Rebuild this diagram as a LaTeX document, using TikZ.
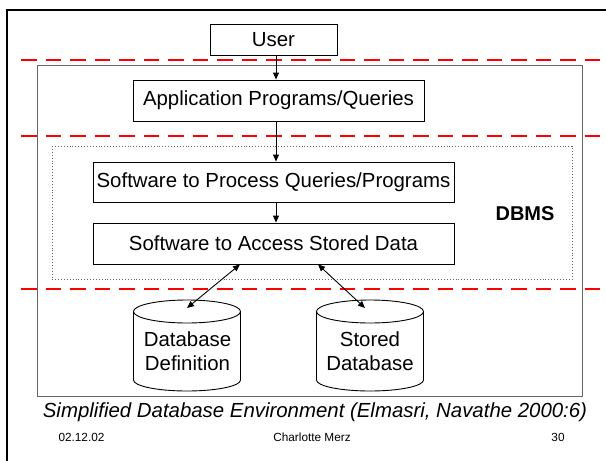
\documentclass[tikz,border=0pt]{standalone}
\usepackage{fontspec}
\setmainfont{Liberation Sans}
\usetikzlibrary{arrows.meta}
\tikzset{
  box/.style={draw=black, line width=0.9pt, inner sep=0pt, font=\fontsize{20.4}{24}\selectfont},
  sep/.style={draw=red, line width=2.6pt, dash pattern=on 15.5pt off 9pt},
  flow/.style={draw=black, line width=0.9pt, -{Triangle[length=7pt,width=6pt]}},
  both/.style={draw=black, line width=0.9pt, {Triangle[length=7pt,width=6pt]}-{Triangle[length=7pt,width=6pt]}},
  dbtext/.style={align=center, font=\fontsize{20.4}{24}\selectfont},
  foot/.style={font=\fontsize{11.8}{14}\selectfont}
}
\begin{document}
\begin{tikzpicture}[x=1pt,y=-1pt]
\useasboundingbox (0,0) rectangle (606,461);
\fill[white] (0,0) rectangle (606,461);
% outer frame (partially visible)
\draw[line width=2pt] (7,475) -- (7,10) -- (620,10);
% gray environment box
\draw[draw=gray!80!black, line width=1pt] (37,65) rectangle (582,396);
% dotted DBMS box
\draw[draw=gray!80!black, line width=0.9pt, dotted] (52,146) rectangle (572,279);
% separators
\draw[sep] (21,60) -- (620,60);
\draw[sep] (21,136) -- (620,136);
\draw[sep] (21,289) -- (620,289);
% nodes
\node[box, minimum width=127pt, minimum height=31pt] (user) at (273.5,39.5) {User};
\node[box, fill=white, minimum width=291pt, minimum height=41pt] (app) at (278.5,100.5) {Application Programs/Queries};
\node[box, fill=white, minimum width=361pt, minimum height=40pt] (proc) at (273.5,182) {Software to Process Queries/Programs};
\node[box, fill=white, minimum width=361pt, minimum height=41pt] (acc) at (273.5,243.5) {Software to Access Stored Data};
\node[font=\bfseries\fontsize{20}{24}\selectfont] (dbms) at (525,214) {DBMS};
% cylinders
\foreach \cx/\nm in {187/cylA, 370/cylB}{
  \draw[line width=0.9pt, fill=white] (\cx-53.5,311.5) -- (\cx-53.5,380)
     arc[start angle=180, end angle=360, x radius=53.5, y radius=-11]
     -- (\cx+53.5,311.5)
     arc[start angle=0, end angle=180, x radius=53.5, y radius=-11.5];
  \draw[line width=0.9pt] (\cx-53.5,311.5) arc[start angle=180, end angle=360, x radius=53.5, y radius=-11.5];
}
\node[dbtext] (defn) at (187.5,351) {Database\\Definition};
\node[dbtext] (stored) at (370,351) {Stored\\Database};
\coordinate (ax) at (276,0);
\coordinate (tA) at (187,308);
\coordinate (tB) at (365,308);
\coordinate (sA) at (240,265);
\coordinate (sB) at (318,265);
% connectors
\draw[flow] (user.south -| ax) -- (app.north -| ax);
\draw[flow] (app.south -| ax) -- (proc.north -| ax);
\draw[flow] (proc.south -| ax) -- (acc.north -| ax);
\draw[both] (acc.south -| sA) -- (tA);
\draw[both] (acc.south -| sB) -- (tB);
% caption and footer
\node[font=\itshape\fontsize{20.4}{24}\selectfont] (cap) at (315,412) {Simplified Database Environment (Elmasri, Navathe 2000:6)};
\node[foot] (date) at (81.5,437) {02.12.02};
\node[foot] (author) at (312,437) {Charlotte Merz};
\node[foot] (page) at (558,437) {30};
\end{tikzpicture}
\end{document}
